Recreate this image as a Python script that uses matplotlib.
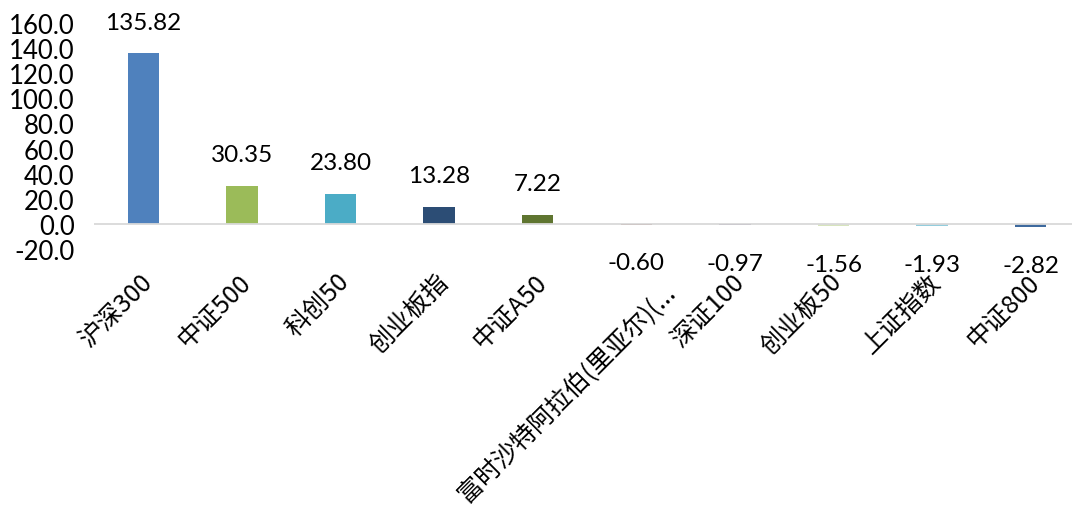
import matplotlib

matplotlib.use("Agg")
import matplotlib.pyplot as plt
import matplotlib.transforms as mtransforms
import numpy as np

plt.rcParams["font.family"] = ["Lato", "Noto Sans CJK SC", "DejaVu Sans"]

names = ["沪深300", "中证500", "科创50", "创业板指", "中证A50",
         "富时沙特阿拉伯(里亚尔)(...", "深证100", "创业板50", "上证指数", "中证800"]
values = [135.82, 30.35, 23.80, 13.28, 7.22, -0.60, -0.97, -1.56, -1.93, -2.82]
colors = ["#4F81BD", "#9BBB59", "#4BACC6", "#2C4D75", "#5F7530",
          "#772C2A", "#5C4776", "#D7E4BD", "#93CDDD", "#3E6A9E"]
yticks = np.arange(-20, 161, 20)

fig = plt.figure(figsize=(10.72, 5.06), dpi=100)
ax = fig.add_axes([94 / 1072, 1 - 250 / 506, 986 / 1072, 226 / 506])

x = np.arange(len(names))
ax.bar(x, values, width=0.32, color=colors, zorder=2)
ax.axhline(0, color="#D9D9D9", lw=1.3, zorder=3)

for xi, v in zip(x, values):
    off = 15 if v >= 0 else -20
    ax.annotate(f"{v:.2f}", (xi, v), xytext=(0, off), textcoords="offset points",
                ha="center", va="bottom" if v >= 0 else "top", fontsize=17.5)

ax.set_xlim(-0.5, len(names) - 0.5)
ax.set_ylim(-20, 160)
ax.set_yticks(yticks)
ax.set_yticklabels([f"{t:.1f}" for t in yticks], fontsize=18.5)
ax.set_xticks(x)
ax.set_xticklabels(names, rotation=45, ha="right", rotation_mode="anchor",
                   fontsize=18, family=["Noto Sans CJK SC", "DejaVu Sans"],
                   fontweight="light")
ax.tick_params(axis="y", length=0, pad=14)
ax.tick_params(axis="x", length=0, pad=14)
for i, lbl in enumerate(ax.get_xticklabels()):
    # the long truncated label sits further right in the original
    dx, dy = (26, -10) if i == 5 else (-4, 0)
    shift = mtransforms.ScaledTranslation(dx / 100, dy / 100, fig.dpi_scale_trans)
    lbl.set_transform(lbl.get_transform() + shift)
for s in ax.spines.values():
    s.set_visible(False)

fig.savefig("out.png", dpi=100)
